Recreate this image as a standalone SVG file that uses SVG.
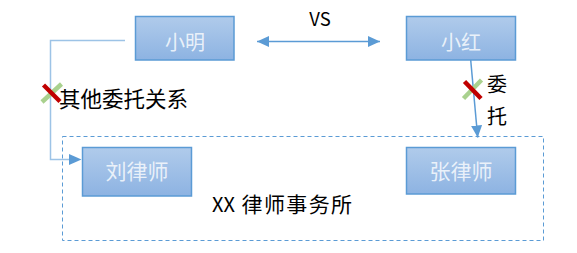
<svg xmlns="http://www.w3.org/2000/svg" width="577" height="253" viewBox="0 0 577 253">
<defs>
<linearGradient id="g" x1="0" y1="0" x2="0" y2="1">
<stop offset="0" stop-color="#b0cbeb"/>
<stop offset="1" stop-color="#8db3e2"/>
</linearGradient>
<marker id="ah" viewBox="0 0 12 11" refX="12" refY="5.5" markerWidth="12" markerHeight="11" markerUnits="userSpaceOnUse" orient="auto-start-reverse">
<path d="M0,0 L12,5.5 L0,11 Z" fill="#5b9bd5"/>
</marker>
<style>
.box{fill:url(#g);stroke:#5b9bd5;stroke-width:1.5}
.nt{font-family:"Noto Sans CJK SC","Noto Sans",sans-serif;font-size:20px;fill:#ffffff;fill-opacity:0.8;text-anchor:middle}
.lb{font-family:"Noto Sans CJK SC","Noto Sans",sans-serif;font-size:20px;fill:#000}
.ln{fill:none;stroke:#5b9bd5;stroke-width:1.5}
.ln2{fill:none;stroke:#9dc3e6;stroke-width:1.5}
.gx{stroke:#a9d18e;stroke-width:4.5}
.rx{stroke:#c00000;stroke-width:4.5}
</style>
</defs>
<rect x="62.5" y="136.5" width="481" height="104" fill="none" stroke="#5b9bd5" stroke-width="1" stroke-dasharray="4 3"/>
<g id="connectors">
<path class="ln2" d="M125,40.5 H50.5 V159.5 H70" />
<path d="M69,154 L81.5,159.5 L69,165 Z" fill="#5b9bd5"/>
<line class="ln" x1="257" y1="41.5" x2="380" y2="41.5" marker-start="url(#ah)" marker-end="url(#ah)"/>
<line class="ln" x1="470.7" y1="60" x2="477.7" y2="137.5" marker-end="url(#ah)"/>
</g>
<g id="xiaoming"><rect class="box" x="135.5" y="16.5" width="98.5" height="43.5"/><text class="nt" x="185" y="50">小明</text></g>
<g id="xiaohong"><rect class="box" x="406.5" y="16.5" width="109" height="43.5"/><text class="nt" x="461" y="50">小红</text></g>
<g id="liu"><rect class="box" x="82.5" y="147.5" width="109" height="48.5"/><text class="nt" x="137" y="179" style="font-size:21px">刘律师</text></g>
<g id="zhang"><rect class="box" x="406.5" y="147.5" width="109" height="46.5"/><text class="nt" x="461" y="179" style="font-size:21px">张律师</text></g>
<g id="labels">
<text class="lb" x="320" y="26" text-anchor="middle" style="font-size:18.5px">VS</text>
<text class="lb" x="59" y="107" style="font-size:21.5px">其他委托关系</text>
<text class="lb" x="487" y="92">委</text>
<text class="lb" x="487" y="124">托</text>
<text class="lb" x="212" y="212" style="font-size:20px">XX <tspan x="241.5" style="font-size:21px;letter-spacing:1.4px">律师事务所</tspan></text>
</g>
<g id="cross1"><line class="gx" x1="42" y1="102" x2="61.5" y2="84"/><line class="rx" x1="43.5" y1="85" x2="60" y2="101.5"/></g>
<g id="cross2"><line class="gx" x1="463.5" y1="98.5" x2="481.5" y2="80"/><line class="rx" x1="464.5" y1="81.5" x2="481" y2="98.5"/></g>
</svg>
